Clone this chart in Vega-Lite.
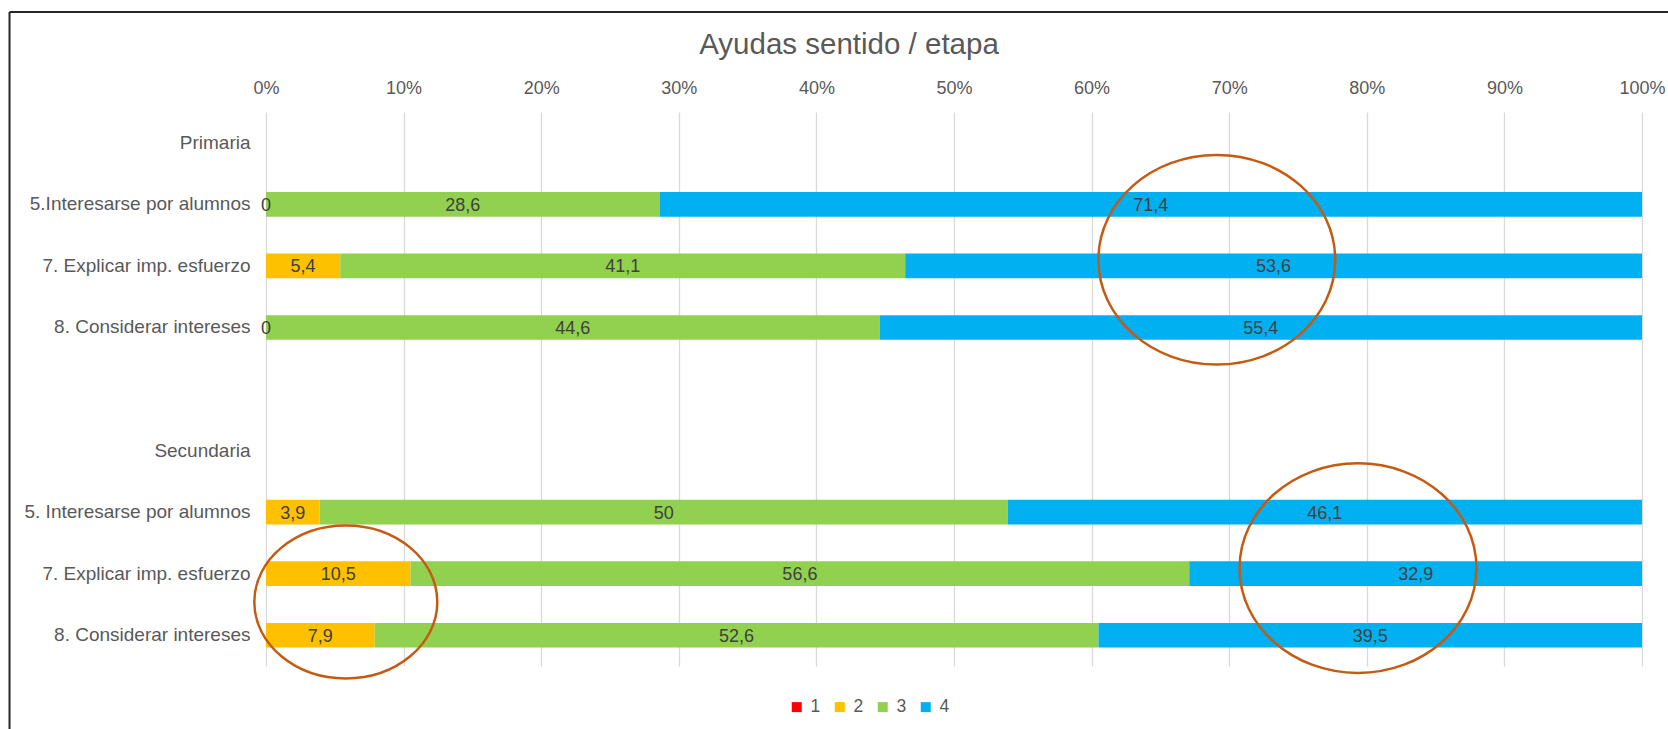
{
  "$schema": "https://vega.github.io/schema/vega-lite/v6.json",
  "autosize": {"type": "none"},
  "width": 1376,
  "height": 554,
  "padding": {"left": 266, "top": 112, "right": 26, "bottom": 63},
  "background": "white",
  "config": {
    "locale": {"number": {"decimal": ",", "thousands": ".", "grouping": [3], "currency": ["", " €"]}},
    "view": {"stroke": null},
    "font": "Liberation Sans"
  },
  "title": {
    "text": "Ayudas sentido / etapa",
    "fontSize": 29.5,
    "font": "Liberation Sans",
    "fontWeight": "normal",
    "color": "#595959",
    "anchor": "middle",
    "frame": "group",
    "dx": -105,
    "dy": 95,
    "offset": 22,
    "baseline": "alphabetic"
  },
  "datasets": {
    "respuestas": [
      {"fila": "b|5.Interesarse por alumnos", "serie": "1", "valor": 0},
      {"fila": "b|5.Interesarse por alumnos", "serie": "2", "valor": 0},
      {"fila": "b|5.Interesarse por alumnos", "serie": "3", "valor": 28.6},
      {"fila": "b|5.Interesarse por alumnos", "serie": "4", "valor": 71.4},
      {"fila": "c|7. Explicar imp. esfuerzo", "serie": "1", "valor": 0},
      {"fila": "c|7. Explicar imp. esfuerzo", "serie": "2", "valor": 5.4},
      {"fila": "c|7. Explicar imp. esfuerzo", "serie": "3", "valor": 41.1},
      {"fila": "c|7. Explicar imp. esfuerzo", "serie": "4", "valor": 53.6},
      {"fila": "d|8. Considerar intereses", "serie": "1", "valor": 0},
      {"fila": "d|8. Considerar intereses", "serie": "2", "valor": 0},
      {"fila": "d|8. Considerar intereses", "serie": "3", "valor": 44.6},
      {"fila": "d|8. Considerar intereses", "serie": "4", "valor": 55.4},
      {"fila": "g|5. Interesarse por alumnos", "serie": "1", "valor": 0},
      {"fila": "g|5. Interesarse por alumnos", "serie": "2", "valor": 3.9},
      {"fila": "g|5. Interesarse por alumnos", "serie": "3", "valor": 50},
      {"fila": "g|5. Interesarse por alumnos", "serie": "4", "valor": 46.1},
      {"fila": "h|7. Explicar imp. esfuerzo", "serie": "1", "valor": 0},
      {"fila": "h|7. Explicar imp. esfuerzo", "serie": "2", "valor": 10.5},
      {"fila": "h|7. Explicar imp. esfuerzo", "serie": "3", "valor": 56.6},
      {"fila": "h|7. Explicar imp. esfuerzo", "serie": "4", "valor": 32.9},
      {"fila": "i|8. Considerar intereses", "serie": "1", "valor": 0},
      {"fila": "i|8. Considerar intereses", "serie": "2", "valor": 7.9},
      {"fila": "i|8. Considerar intereses", "serie": "3", "valor": 52.6},
      {"fila": "i|8. Considerar intereses", "serie": "4", "valor": 39.5}
    ],
    "marcas": [
      {"marca": "A", "x": 0.691, "fila": 1.9},
      {"marca": "B", "x": 0.7936, "fila": 6.91},
      {"marca": "C", "x": 0.058, "fila": 7.46}
    ]
  },
  "layer": [
    {
      "data": {"name": "respuestas"},
      "layer": [
        {
          "mark": {"type": "bar"},
          "encoding": {
            "y": {
              "field": "fila",
              "type": "nominal",
              "title": null,
              "scale": {
                "domain": ["a|Primaria", "b|5.Interesarse por alumnos", "c|7. Explicar imp. esfuerzo", "d|8. Considerar intereses", "e|", "f|Secundaria", "g|5. Interesarse por alumnos", "h|7. Explicar imp. esfuerzo", "i|8. Considerar intereses"],
                "paddingInner": 0.6,
                "paddingOuter": 0.3
              },
              "axis": {
                "orient": "left",
                "labelExpr": "slice(datum.value, 2)",
                "labelLimit": 0,
                "ticks": false,
                "tickSize": 0,
                "domain": false,
                "grid": false,
                "labelPadding": 16,
                "labelFontSize": 19,
                "labelColor": "#595959",
                "labelFont": "Liberation Sans"
              }
            },
            "x": {
              "field": "valor",
              "type": "quantitative",
              "stack": "normalize",
              "title": null,
              "scale": {"domain": [0, 1], "nice": false},
              "axis": {
                "orient": "top",
                "values": [0, 0.1, 0.2, 0.3, 0.4, 0.5, 0.6, 0.7, 0.8, 0.9, 1],
                "format": ".0%",
                "labelFontSize": 18,
                "labelColor": "#595959",
                "labelFont": "Liberation Sans",
                "labelFlush": false,
                "labelOverlap": false,
                "labelBaseline": "alphabetic",
                "labelPadding": 19,
                "grid": true,
                "gridColor": "#D9D9D9",
                "gridWidth": 1.3,
                "ticks": false,
                "tickSize": 0,
                "domain": false
              }
            },
            "color": {
              "field": "serie",
              "type": "nominal",
              "scale": {"domain": ["1", "2", "3", "4"], "range": ["#FF0000", "#FFC000", "#92D050", "#00B0F0"]},
              "legend": {
                "orient": "none",
                "legendX": 522,
                "legendY": 586,
                "direction": "horizontal",
                "title": null,
                "symbolType": "square",
                "symbolSize": 100,
                "symbolStrokeWidth": 0,
                "labelFontSize": 17.5,
                "labelColor": "#595959",
                "labelFont": "Liberation Sans",
                "labelOffset": 5,
                "columnPadding": 10,
                "padding": 0
              }
            },
            "order": {"field": "serie", "type": "ordinal", "sort": "ascending"}
          }
        },
        {
          "transform": [{"filter": "datum.serie != '1'"}],
          "mark": {"type": "text", "fontSize": 18, "color": "#404040", "font": "Liberation Sans", "baseline": "middle", "dy": 1.5},
          "encoding": {
            "y": {"field": "fila", "type": "nominal", "title": null},
            "x": {"field": "valor", "type": "quantitative", "stack": "normalize", "bandPosition": 0.5, "title": null},
            "detail": {"field": "serie", "type": "nominal"},
            "order": {"field": "serie", "type": "ordinal", "sort": "ascending"},
            "text": {"field": "valor", "type": "quantitative", "format": ".1~f"}
          }
        }
      ]
    },
    {
      "data": {"name": "marcas"},
      "layer": [
        {
          "transform": [{"filter": "datum.marca != 'C'"}],
          "mark": {"type": "point", "shape": "M-1,0A1,0.885,0,1,0,1,0A1,0.885,0,1,0,-1,0Z", "size": 56100, "filled": false, "fill": null, "stroke": "#C55A11", "strokeWidth": 2.5, "opacity": 1},
          "encoding": {
            "x": {"field": "x", "type": "quantitative", "scale": {"domain": [0, 1], "nice": false, "zero": false}, "axis": null},
            "y": {"field": "fila", "type": "quantitative", "scale": {"domain": [-0.5, 8.5], "reverse": true, "nice": false, "zero": false}, "axis": null}
          }
        },
        {
          "transform": [{"filter": "datum.marca == 'C'"}],
          "mark": {"type": "point", "shape": "M-1,0A1,0.836,0,1,0,1,0A1,0.836,0,1,0,-1,0Z", "size": 33489, "filled": false, "fill": null, "stroke": "#C55A11", "strokeWidth": 2.5, "opacity": 1},
          "encoding": {
            "x": {"field": "x", "type": "quantitative", "axis": null},
            "y": {"field": "fila", "type": "quantitative", "axis": null}
          }
        },
        {
          "data": {"values": [{"borde": "marco"}]},
          "mark": {"type": "rule", "color": "#262626", "strokeWidth": 2},
          "encoding": {
            "x": {"datum": -0.1864, "type": "quantitative"},
            "y": {"datum": -2.125, "type": "quantitative"},
            "y2": {"datum": 9.7}
          }
        },
        {
          "data": {"values": [{"borde": "marco"}]},
          "mark": {"type": "rule", "color": "#262626", "strokeWidth": 2},
          "encoding": {
            "x": {"datum": -0.1864, "type": "quantitative"},
            "x2": {"datum": 1.03},
            "y": {"datum": -2.125, "type": "quantitative"}
          }
        }
      ]
    }
  ],
  "resolve": {"scale": {"x": "independent", "y": "independent"}}
}
